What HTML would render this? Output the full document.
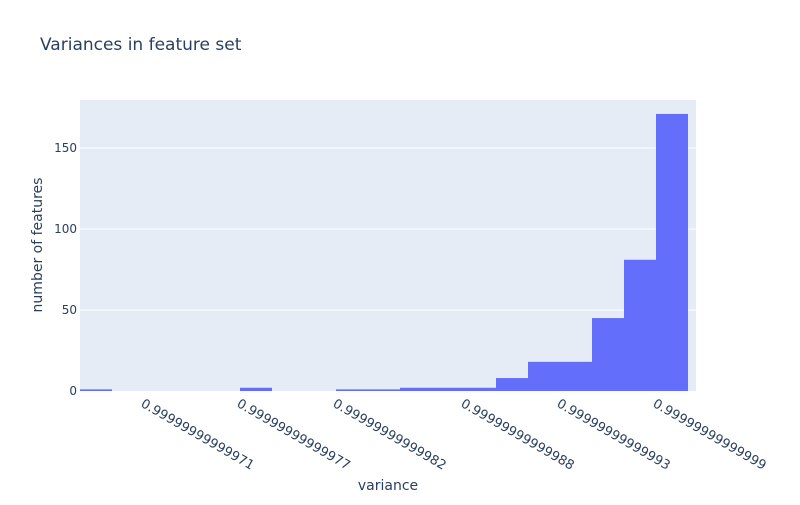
<!DOCTYPE html>
<html><head><meta charset="utf-8"><style>
body{margin:0;background:#fff;}
svg{font-family:"DejaVu Sans","Liberation Sans",sans-serif;}
</style></head><body>
<svg id="chart" width="800" height="500">
<rect width="800" height="500" fill="#fff"/>
<text x="40" y="50" font-size="17" fill="#2a3f5f">Variances in feature set</text>
<rect x="80" y="100" width="616" height="291" fill="#e5ecf6"/>
<g id="grid"></g><g id="bars"></g><g id="yticks"></g><g id="xticks"></g>
<text x="388" y="490" font-size="14" fill="#2a3f5f" text-anchor="middle">variance</text>
<text transform="translate(42,245) rotate(-90)" font-size="14" fill="#2a3f5f" text-anchor="middle">number of features</text>
</svg>
<script>
const counts=[1,0,0,0,0,2,0,0,1,1,2,2,2,8,18,18,45,81,171];
const xTickBins=[2,5,8,12,15,18];
const xTickLabels=["0.99999999999971","0.99999999999977","0.99999999999982","0.99999999999988","0.99999999999993","0.99999999999999"];
const yTicks=[0,50,100,150];
const NS="http://www.w3.org/2000/svg";
const x0=80,binW=32,yBase=391,yMax=179.6,plotH=291;
const xs=i=>x0+i*binW;
const ys=v=>yBase-v/yMax*plotH;
function mk(t,a,p){const e=document.createElementNS(NS,t);for(const k in a)e.setAttribute(k,a[k]);document.getElementById(p).appendChild(e);return e;}
yTicks.forEach(v=>{
 if(v>0){const g=mk('line',{x1:80,x2:696,y1:ys(v),y2:ys(v),stroke:'#fff','stroke-width':1},'grid');
 
 }
 const t=mk('text',{x:77,y:ys(v)+4,'font-size':12,fill:'#2a3f5f','text-anchor':'end'},'yticks');
 t.textContent=v;
 
 
});
counts.forEach((c,i)=>{
 if(c<=0)return;
 const r=mk('rect',{x:xs(i),y:ys(c),width:binW,height:yBase-ys(c),fill:'#636efa'},'bars');
 
 
});
xTickBins.forEach((b,i)=>{
 const x=xs(b)-4,y=406;
 const t=mk('text',{x:x,y:y,'font-size':13,fill:'#2a3f5f',transform:`rotate(30 ${x} ${y})`},'xticks');
 t.textContent=xTickLabels[i];
 
 
});
</script>
</body></html>
